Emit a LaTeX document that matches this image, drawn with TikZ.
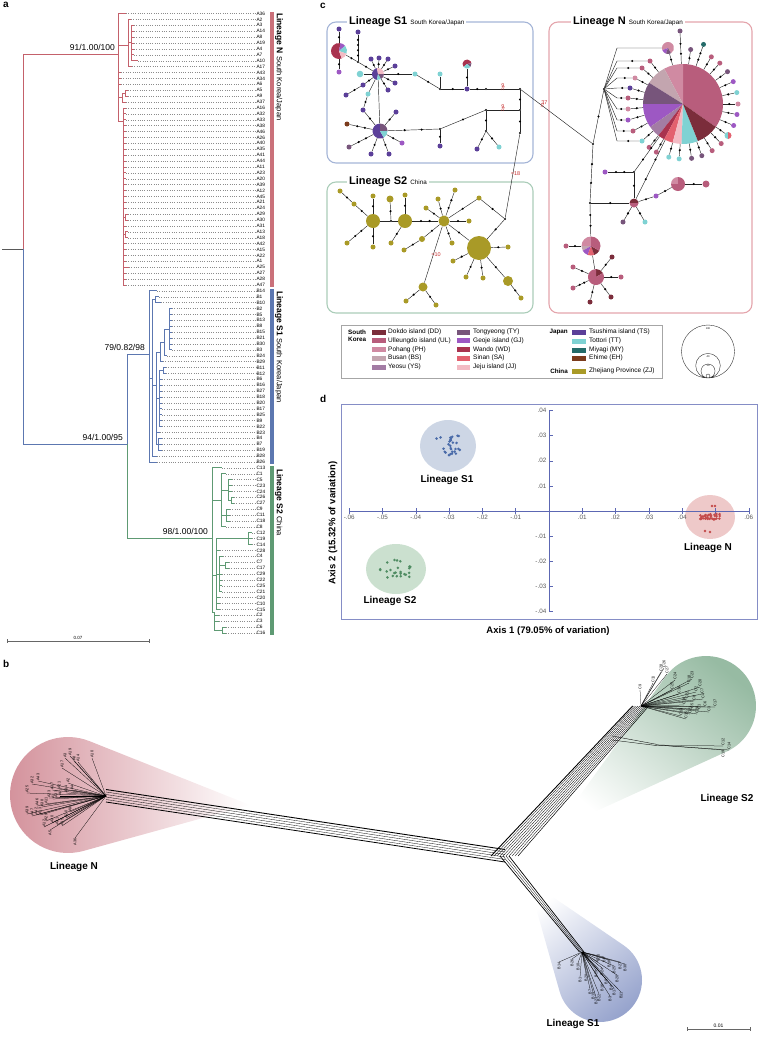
\documentclass[tikz,border=0pt]{standalone}
\usepackage{fontspec}
\setmainfont{Liberation Sans}
\usetikzlibrary{calc,positioning}

\definecolor{colDD}{HTML}{7B2D3B}
\definecolor{colUL}{HTML}{B85D7C}
\definecolor{colPH}{HTML}{D08AA2}
\definecolor{colBS}{HTML}{C3A5AF}
\definecolor{colYS}{HTML}{A37CA4}
\definecolor{colTY}{HTML}{77557B}
\definecolor{colGJ}{HTML}{9D58C3}
\definecolor{colWD}{HTML}{A9334F}
\definecolor{colSA}{HTML}{E3616F}
\definecolor{colJJ}{HTML}{F3BBC4}
\definecolor{colTS}{HTML}{5B3F99}
\definecolor{colTT}{HTML}{7FD2D3}
\definecolor{colMY}{HTML}{246B69}
\definecolor{colEH}{HTML}{7B3B1D}
\definecolor{colZJ}{HTML}{A99A27}
\definecolor{treeN}{HTML}{C4616B}
\definecolor{treeS1}{HTML}{5C77B0}
\definecolor{treeS2}{HTML}{5E9A73}
\definecolor{boxS1}{HTML}{A5B5D7}
\definecolor{boxS2}{HTML}{ABCDB9}
\definecolor{boxN}{HTML}{E4A5AC}
\definecolor{blobN}{HTML}{D3909A}
\definecolor{blobS1}{HTML}{97A4CD}
\definecolor{blobS2}{HTML}{97BBA3}
\definecolor{axisblue}{HTML}{5C67B3}
\definecolor{mutred}{HTML}{C62F2F}
\definecolor{ellS1}{HTML}{CDD6E5}
\definecolor{ellS2}{HTML}{CBE0CF}
\definecolor{ellN}{HTML}{EEC9C9}
\definecolor{dotS1}{HTML}{4A6BA9}
\definecolor{dotS2}{HTML}{4F8C62}
\definecolor{dotN}{HTML}{C44B4B}

\newcommand{\fsz}[1]{\fontsize{#1}{#1}\selectfont}
% pie node: name, x, y, radius, slices
\newcommand{\hapie}[5]{%
  \node[hapnode,minimum size=#4*2pt] (#1) at (#2,#3) {};
  \foreach \angA/\angB/\slcol in {#5}{%
    \fill[\slcol] (#1.center) -- ++(\angA:#4) arc[start angle=\angA,end angle=\angB,radius=#4] -- cycle;}}
% link with mutation steps: steps, from, to
\newcommand{\hlink}[3]{%
  \draw[hapedge] (#2) -- (#3) foreach \hk in {1,...,#1}{node[mutdot,pos=\hk/(#1+1)]{}};}

\begin{document}
\begin{tikzpicture}[x=1pt,y=-1pt,
	panel/.style={anchor=north west, inner sep=0pt, font=\fsz{10}\bfseries},
	tipnode/.style={anchor=west, inner sep=0.3pt, font=\fsz{4.8}},
	branch/.style={line width=0.7pt},
	leader/.style={black!45, dotted, line width=0.3pt},
	support/.style={anchor=south east, inner sep=1pt, font=\fsz{8.5}},
	barlabel/.style={anchor=west, rotate=-90, inner sep=0pt, font=\fsz{8.5}},
	netline/.style={black, line width=0.35pt},
	netthin/.style={black, line width=0.25pt},
	netlab/.style={rotate=90, inner sep=0.2pt, font=\fsz{3.8}},
	grouplab/.style={inner sep=0pt, font=\fsz{10}\bfseries},
	hapnode/.style={circle, inner sep=0pt, minimum size=5pt},
	hap/.style={hapnode, minimum size=5pt},
	mutdot/.style={circle, fill=black, inner sep=0pt, minimum size=2.3pt},
	hapedge/.style={black!85, line width=0.45pt},
	brk/.style={text=mutred, font=\fsz{5.5}, inner sep=0pt},
	brklab/.style={text=mutred, font=\fsz{5.5}, inner sep=0pt, above=1.5pt},
	boxtitle/.style={anchor=west, fill=white, inner sep=2pt, font=\fsz{11}\bfseries},
	legtext/.style={anchor=west, inner sep=0pt, font=\fsz{6.5}},
	leghead/.style={inner sep=0pt, font=\fsz{6.3}\bfseries},
	dtick/.style={inner sep=0.5pt, text=black!65, font=\fsz{6.3}},
	]
	\useasboundingbox (0,0) rectangle (760,1039);

	%Panel a: tree
	\node[panel] (pa) at (3,2) {a};
	\foreach \xa/\ya/\xb/\yb/\col in {
		2/249/23/249/black!65, 23/54/23/249/treeN, 23/54/118/54/treeN,
		23/249/23/444/treeS1, 23/444/127/444/treeS1, 127/354/127/444/treeS1,
		127/354/149/354/treeS1, 127/444/127/538/treeS2, 127/538/212/538/treeS2,
		118/13.5/118/121/treeN, 118/45/128/45/treeN, 128/19.4/128/66.6/treeN,
		128/42/131/42/treeN, 131/25.3/131/60.7/treeN, 118/97/122/97/treeN,
		122/93.1/122/102/treeN, 122/93.1/125/93.1/treeN, 125/90.2/125/96.1/treeN,
		118/121/123/121/treeN, 123/107.9/123/284.9/treeN, 123/217/125/217/treeN,
		125/214.1/125/220/treeN, 123/234.7/125/234.7/treeN, 125/231.8/125/237.7/treeN,
		149/290.8/149/461.9/treeS1, 152/299.7/152/456/treeS1, 149/378/152/378/treeS1,
		155/296.7/155/302.6/treeS1, 152/299.7/155/299.7/treeS1, 156/352/156/444/treeS1,
		152/385/156/385/treeS1, 160/342/160/361.6/treeS1, 156/352/160/352/treeS1,
		164/329/164/355.7/treeS1, 160/342/164/342/treeS1, 169/308.5/169/349.8/treeS1,
		164/329/169/329/treeS1, 163/367.5/163/373.4/treeS1, 159/370.5/163/370.5/treeS1,
		159/370.5/159/426.5/treeS1, 156/398/159/398/treeS1, 158/438.3/158/450.1/treeS1,
		156/444/158/444/treeS1,
		212/467.8/212/612/treeS2, 212/500/221/500/treeS2, 221/473.7/221/526.8/treeS2,
		221/490/228/490/treeS2, 228/479.6/228/500.2/treeS2, 228/500.2/231/500.2/treeS2,
		231/497.3/231/503.2/treeS2, 221/515/226/515/treeS2, 226/509.1/226/520.9/treeS2,
		212/575/216/575/treeS2, 216/538.6/216/609.4/treeS2, 216/538.6/248/538.6/treeS2,
		248/532.7/248/544.5/treeS2, 216/574/219/574/treeS2, 219/556.3/219/591.7/treeS2,
		219/565.2/225/565.2/treeS2, 225/562.2/225/568.1/treeS2, 212/612/214/612/treeS2,
		214/612/214/630/treeS2, 214/630/222/630/treeS2, 222/627.1/222/633/treeS2}
		\draw[branch,\col] (\xa,\ya) -- (\xb,\yb);
	\foreach \lab [count=\g from 0] in {A36,A2,A3,A14,A8,A19,A4,A7,A10,A17,A43,A34,A6,A5,A9,A37,A16,A32,A33,A38,A46,A26,A40,A35,A41,A44,A11,A23,A20,A39,A12,A45,A21,A24,A29,A30,A31,A13,A18,A42,A15,A22,A1,A25,A27,A28,A47,B14,B1,B10,B2,B5,B13,B8,B15,B21,B30,B3,B24,B29,B11,B12,B6,B16,B27,B18,B20,B17,B25,B9,B22,B23,B4,B7,B19,B28,B26,C13,C1,C5,C23,C24,C26,C27,C9,C11,C18,C8,C12,C19,C14,C28,C4,C7,C17,C29,C22,C25,C21,C20,C10,C15,C2,C3,C6,C16}
		\node[tipnode] (tip\g) at (256,{13.5+5.9*\g}) {\lab};
	\foreach \ga/\gb/\xv/\xt/\col in {0/0/118/126/treeN, 1/1/128/131/treeN, 2/7/131/134/treeN,
		8/8/131/138/treeN, 9/9/128/132/treeN, 10/12/118/121/treeN, 13/14/125/128/treeN,
		15/15/122/126/treeN, 16/33/123/126/treeN, 34/35/125/128/treeN, 36/36/123/126/treeN,
		37/38/125/128/treeN, 39/42/123/126/treeN, 43/43/123/129/treeN, 44/46/123/126/treeN,
		47/47/149/157/treeS1, 48/48/155/159/treeS1, 49/49/155/161/treeS1, 50/57/169/172/treeS1,
		58/58/164/167/treeS1, 59/59/160/163/treeS1, 60/61/163/166/treeS1, 62/70/159/162/treeS1,
		71/71/156/160/treeS1, 72/74/158/162/treeS1, 75/75/152/157/treeS1, 76/76/149/157/treeS1,
		77/77/212/222/treeS2, 78/78/221/226/treeS2, 79/81/228/232/treeS2, 82/83/231/234/treeS2,
		84/86/226/230/treeS2, 87/87/221/226/treeS2, 88/90/248/252/treeS2, 91/91/216/220/treeS2,
		92/92/219/223/treeS2, 93/94/225/229/treeS2, 95/98/219/222/treeS2, 99/101/216/220/treeS2,
		102/103/214/219/treeS2, 104/105/222/226/treeS2}
		\foreach \g in {\ga,...,\gb}{
			\draw[branch,\col] (\xv,{13.5+5.9*\g}) -- (\xt,{13.5+5.9*\g});
			\draw[leader] (\xt,{13.5+5.9*\g}) -- (tip\g.west);}
	\fill[treeN!90] (270,11.5) rectangle (273.5,287);
	\fill[treeS1] (270,289) rectangle (273.5,464);
	\fill[treeS2] (270,466) rectangle (273.5,635);
	\node[barlabel] (lbN) at (279,13) {\textbf{Lineage N} {\fsz{7.5}South Korea/Japan}};
	\node[barlabel] (lbS1) at (279,291) {\textbf{Lineage S1} {\fsz{7.5}South Korea/Japan}};
	\node[barlabel] (lbS2) at (279,469) {\textbf{Lineage S2} {\fsz{7.5}China}};
	\node[support] (bsN) at (116,52) {91/1.00/100};
	\node[support] (bsA) at (124,442) {94/1.00/95};
	\node[support] (bsS1) at (146,352) {79/0.82/98};
	\node[support] (bsS2) at (209,536) {98/1.00/100};
	\coordinate (scA) at (7,641);
	\coordinate (scB) at (149,641);
	\draw[black!60, line width=0.5pt] ([yshift=2pt]scA) -- ([yshift=-2pt]scA) (scA) -- (scB) ([yshift=2pt]scB) -- ([yshift=-2pt]scB);
	\node[font=\fsz{4.5}, above, inner sep=1pt] (scl) at ($(scA)!0.5!(scB)$) {0.07};

	%Panel b: network
	\node[panel] (pb) at (3,660) {b};
	\coordinate (cN) at (68,795);   \coordinate (tN) at (250,805);
	\coordinate (cS2) at (706,706); \coordinate (tS2) at (555,830);
	\coordinate (cS1) at (600,980); \coordinate (tS1) at (528,880);
	\path[left color=blobN, right color=white] (tN) -- ($(cN)+(74.5:58)$) arc[start angle=74.5, end angle=291.7, radius=58] -- cycle;
	\path[top color=blobS2, bottom color=white, shading angle=-40] (tS2) -- ($(cS2)+(215.8:50)$) arc[start angle=215.8, end angle=425.4, radius=50] -- cycle;
	\path[top color=white, bottom color=blobS1, shading angle=40] (tS1) -- ($(cS1)+(304.3:42)$) arc[start angle=304.3, end angle=524.1, radius=42] -- cycle;
	\coordinate (bN) at (106,796);
	\coordinate (bJ) at (505,856);
	\coordinate (bS2) at (641,706);
	\coordinate (bS1) at (582,952);
	\coordinate (bC0) at (612,738);
	\coordinate (bC) at (657,745);
	\foreach \o/\w in {-6/0.8,-3.5/0.3,-1/0.3,1.5/0.3,4/0.3,6.5/0.9}
		\draw[netline, line width=\w pt] ([yshift=\o pt]bN) -- ([yshift=\o pt]bJ);
	\foreach \o/\w in {-14/0.9,-11/0.3,-8/0.3,-5/0.3,-2/0.3,1/0.3,4/0.3,7/0.3,10/0.3,13/0.5}
		\draw[netline, line width=\w pt] ([xshift=\o pt]bJ) -- ([xshift={0.6*\o*1pt}]bS2);
	\foreach \o/\w in {-5/0.7,-2/0.3,1/0.3,4/0.7}
		\draw[netline, line width=\w pt] ([xshift=\o pt]bJ) -- ([xshift={0.5*\o*1pt}]bS1);
	\foreach \o in {-2,2}
		\draw[netline] ([yshift=\o pt]bC0) -- ([yshift={0.3*\o*1pt}]bC);
	\foreach \x/\y/\lab/\an [count=\i] in {92/758/A10/west, 78/762/A14/west, 74/761/A8/west,
		70/756/A19/west, 65/758/A3/west, 62/768/A17/west, 68/783/A2/west, 72/790/A4/west,
		66/793/A34/west, 59/789/A21/west, 52/790/A37/west, 38/781/A43/west, 32/784/A32/west,
		27/793/A25/west, 27/814/A39/west, 32/816/A47/west, 36/815/A42/west, 40/815/A13/west,
		37/806/A46/west, 42/807/A38/west, 46/804/A11/west, 49/798/A23/west, 53/799/A1/west,
		56/798/A33/west, 60/796/A6/west, 46/821/A29/west, 52/823/A30/west, 57/825/A31/west,
		62/826/A15/west, 44/827/A12/west, 66/818/A20/west, 70/812/A9/west, 50/830/A5/east,
		75/838/A36/east}{
		\coordinate (bna\i) at (\x,\y);
		\draw[netthin] (bN) -- (bna\i);
		\node[netlab, anchor=\an] (nla\i) at (bna\i) {\lab};}
	\foreach \x/\y/\lab [count=\i] in {640/690/C9, 653/683/C11, 661/672/C28, 664/668/C26,
		667/674/C27, 675/680/C24, 679/694/C10, 689/683/C18, 692/679/C23, 700/687/C20,
		687/699/C22, 694/701/C8, 703/699/C4, 692/709/C5, 699/710/C1, 705/707/C6,
		715/707/C17, 686/719/C15, 697/714/C29, 681/716/C13, 709/712/C3, 690/714/C21,
		684/705/C16, 696/692/C2, 672/690/C25, 702/694/C7}{
		\coordinate (bnc\i) at (\x,\y);
		\draw[netthin] (bS2) -- (bnc\i);
		\node[netlab, anchor=west] (nlc\i) at (bnc\i) {\lab};}
	\foreach \x/\y/\lab/\an [count=\i] in {723/746/C12/west, 729/750/C14/west, 723/750/C19/east}{
		\coordinate (bnd\i) at (\x,\y);
		\draw[netthin] (bC) -- (bnd\i);
		\node[netlab, anchor=\an] (nld\i) at (bnd\i) {\lab};}
	\foreach \x/\y/\lab/\an [count=\i] in {559/962/B14/east, 572/959/B26/east, 578/963/B10/east,
		580/977/B1/east, 586/974/B28/east, 590/989/B7/east, 593/992/B19/east, 596/997/B23/east,
		599/994/B22/east, 602/984/B16/east, 606/979/B9/east, 610/996/B3/east, 611/985/B4/east,
		614/988/B17/east, 614/966/B25/east, 617/975/B20/east, 621/992/B11/east, 625/964/B30/east,
		620/962/B27/east, 604/957/B8/east, 598/962/B21/west, 609/960/B18/east, 602/968/B24/east,
		596/970/B29/east}{
		\coordinate (bnb\i) at (\x,\y);
		\draw[netthin] (bS1) -- (bnb\i);
		\node[netlab, anchor=\an] (nlb\i) at (bnb\i) {\lab};}
	\node[grouplab] (gN) at (74,867) {Lineage N};
	\node[grouplab] (gS2) at (727,799) {Lineage S2};
	\node[grouplab] (gS1) at (573,1024) {Lineage S1};
	\coordinate (sbA) at (687,1029);
	\coordinate (sbB) at (750,1029);
	\draw[black!60, line width=0.5pt] ([yshift=2pt]sbA) -- ([yshift=-2pt]sbA) (sbA) -- (sbB) ([yshift=2pt]sbB) -- ([yshift=-2pt]sbB);
	\node[font=\fsz{5}, above, inner sep=1pt] (sbl) at ($(sbA)!0.5!(sbB)$) {0.01};

	%Panel c: haplotype network
	\node[panel] (pc) at (320,3) {c};
	\draw[boxS1, line width=1.1pt, rounded corners=9pt] (327,22) rectangle (533,163);
	\draw[boxS2, line width=1.1pt, rounded corners=9pt] (327,182) rectangle (533,313);
	\draw[boxN, line width=1.1pt, rounded corners=9pt] (549,22) rectangle (752,313);
	\node[boxtitle] (tS1) at (347,22) {Lineage S1 {\fsz{6.3}\mdseries South Korea/Japan}};
	\node[boxtitle] (tS2) at (347,182) {Lineage S2 {\fsz{6.3}\mdseries China}};
	\node[boxtitle] (tN) at (571,22) {Lineage N {\fsz{6.3}\mdseries South Korea/Japan}};

	% lineage S1
	\hapie{s1p}{339}{51}{8}{-290/-80/colWD,-80/-40/colGJ,-40/20/colTT,20/70/colJJ}
	\hapie{s1h}{378}{74}{6}{-260/-100/colTS,-100/0/colJJ,0/60/colTY,60/100/colTT}
	\hapie{s1q}{380}{131}{7.5}{-300/-90/colTS,-90/0/colTY,0/60/colTT}
	\hapie{s1g}{467}{64}{4.5}{-220/-10/colWD,-10/40/colTY,40/140/colTT}
	\node[hap,fill=colTS] (s1a) at (339,29) {};
	\node[hap,fill=colGJ] (s1b) at (339,72) {};
	\node[hap,fill=colTS] (s1c) at (358,32) {};
	\node[mutdot] (s1d) at (358,62) {};
	\hlink{1}{s1a}{s1p} \hlink{1}{s1p}{s1b} \hlink{4}{s1c}{s1d}
	\hlink{1}{s1p}{s1d} \hlink{1}{s1d}{s1h}
	\foreach \n/\x/\y in {h1/371/59,h2/379/58,h3/388/59,h4/395/66,h5/395/83,h6/388/90}{
		\node[hap,fill=colTS] (s1\n) at (\x,\y) {};
		\hlink{1}{s1h}{s1\n}}
	\node[hap,fill=colTT,minimum size=6.6pt] (s1t0) at (360,74) {};
	\draw[hapedge] (s1h) -- (s1t0);
	\node[hap,fill=colTS] (s1m1) at (363,85) {};
	\node[hap,fill=colTS] (s1m2) at (346,95) {};
	\hlink{1}{s1h}{s1m1} \hlink{1}{s1m1}{s1m2}
	\node[hap,fill=colTT] (s1t3) at (368,94) {};
	\node[hap,fill=colTS] (s1m3) at (363,110) {};
	\draw[hapedge] (s1h) -- (s1t3);
	\hlink{1}{s1t3}{s1m3} \hlink{1}{s1m3}{s1q}
	\draw[hapedge] (s1h) -- (s1q);
	\node[hap,fill=colTT] (s1t1) at (415,74) {};
	\node[mutdot] (s1e) at (440,89) {};
	\node[hap,fill=colTT] (s1t2) at (440,74) {};
	\node[hap,fill=colTS] (s1f) at (467,89) {};
	\node[mutdot] (s1i) at (486,89) {};
	\node[mutdot] (s1j) at (520,89) {};
	\hlink{1}{s1h}{s1t1} \hlink{1}{s1t1}{s1e} \hlink{1}{s1e}{s1f}
	\hlink{1}{s1f}{s1g} \hlink{1}{s1f}{s1i}
	\draw[hapedge] (s1e) -- (s1t2);
	\draw[hapedge] (s1i) -- node[brk]{//} node[brklab]{9} (s1j);
	\node[mutdot] (s1k) at (520,110) {};
	\node[mutdot] (s1l) at (486,110) {};
	\node[mutdot] (s1n) at (520,133) {};
	\node[mutdot] (s1o) at (486,131) {};
	\node[mutdot] (s1v) at (440,129) {};
	\hlink{1}{s1j}{s1k} \hlink{1}{s1k}{s1n} \hlink{1}{s1l}{s1o} \hlink{1}{s1l}{s1v}
	\draw[hapedge] (s1l) -- node[brk]{//} node[brklab]{9} (s1k);
	\node[hap,fill=colTS] (s1u1) at (477,149) {};
	\node[hap,fill=colTT] (s1u2) at (499,147) {};
	\node[hap,fill=colTS] (s1w) at (440,146) {};
	\hlink{1}{s1o}{s1u1} \hlink{1}{s1o}{s1u2} \hlink{1}{s1v}{s1w} \hlink{2}{s1v}{s1q}
	\foreach \n/\x/\y/\col/\k in {q1/396/112/colTS/1, q2/347/124/colEH/2, q3/349/147/colTY/2,
		q4/371/154/colTS/1, q5/389/154/colTS/1, q6/402/143/colGJ/1}{
		\node[hap,fill=\col] (s1\n) at (\x,\y) {};
		\hlink{\k}{s1q}{s1\n}}

	% lineage S2
	\node[mutdot] (s2j) at (505,219) {};
	\node[mutdot] (s2k) at (391,221) {};
	\node[hap,fill=colZJ,minimum size=14pt] (z1) at (373,221) {};
	\node[hap,fill=colZJ,minimum size=14pt] (z2) at (405,221) {};
	\node[hap,fill=colZJ,minimum size=11pt] (z3) at (444,221) {};
	\node[hap,fill=colZJ,minimum size=24pt] (z4) at (479,248) {};
	\node[hap,fill=colZJ,minimum size=9pt] (z5) at (423,287) {};
	\node[hap,fill=colZJ,minimum size=10pt] (z6) at (508,281) {};
	\draw[hapedge] (s1n) -- node[brk, anchor=west, xshift=-2pt, pos=0.47]{≈18} (s2j);
	\draw[hapedge] (z1) -- (s2k) -- (z2);
	\hlink{2}{z2}{z3} \hlink{1}{s2j}{z4} \hlink{1}{z3}{z4} \hlink{1}{z4}{z6}
	\draw[hapedge] (z3) -- node[brk, anchor=west, xshift=-2pt]{≈10} (z5);
	\foreach \n/\x/\y/\fr/\k/\sz in {a1/354/204/z1/1/5, a2/340/191/za1/1/5, b/373/196/z1/1/5,
		c/347/243/z1/2/5, d/373/247/z1/1/5, e/390/199/s2k/1/7, f/405/195/z2/1/5, g/391/243/z2/1/5,
		h/426/208/z3/1/5, i/438/199/z3/1/5, j/455/190/z3/2/5, k/469/221/z3/1/5, l/422/239/z3/1/6,
		m/404/250/zl/1/5, n/452/243/z3/1/5, o/479/198/z3/1/5, p/508/247/z4/1/5, q/453/261/z4/1/5,
		r/466/277/z4/1/5, s/483/278/z4/1/5, t/521/298/z6/1/5, u/406/301/z5/1/5, v/436/305/z5/1/5}{
		\node[hap,fill=colZJ,minimum size=\sz pt] (z\n) at (\x,\y) {};
		\hlink{\k}{\fr}{z\n}}
	\hlink{1}{zo}{s2j}

	% lineage N
	\hapie{NP}{683}{104}{40}{-90/35/colUL,-118/-90/colPH,-148/-118/colBS,-180/-148/colTY,-215/-180/colGJ,-232/-215/colYS,-242/-232/colWD,-255/-242/colSA,-268/-255/colJJ,-292/-268/colTT,-325/-292/colDD}
	\hapie{np2}{668}{48}{6}{-200/60/colPH,-250/-200/colGJ,-300/-250/colTY}
	\hapie{nsa}{728}{135.5}{3.5}{-270/-90/colTT,-90/90/colSA}
	\hapie{nq}{634}{203}{4.5}{-180/0/colDD,0/180/colUL}
	\hapie{ns}{678}{184}{7}{-180/-90/colPH,-90/180/colUL}
	\hapie{np3}{591}{246}{9.5}{-180/-90/colPH,-210/-180/colBS,-250/-210/colGJ,-290/-250/colSA,-330/-290/colDD,-90/30/colUL}
	\hapie{np4}{596}{277}{8}{-90/-30/colDD,-30/270/colUL}
	\hlink{1}{np2}{NP} \hlink{1}{nsa}{NP}
	\foreach \ang/\col [count=\i] in {-82/colTY,-59/colUL,-48/colUL,-36/colTY,-24/colGJ,-12/colTT,0/colPH,11/colGJ,23/colGJ,46/colUL,58/colUL,70/colTY,81/colTY,94/colTT,105/colTT,119/colUL,128/colUL}{
		\node[hap,fill=\col] (nl\i) at ($(NP.center)+(\ang:55)$) {};
		\hlink{1}{NP}{nl\i}}
	\node[hap,fill=colMY] (nmy) at ($(NP.center)+(-71:63)$) {};
	\hlink{2}{NP}{nmy}
	\node[hap,fill=colTY] (ntop) at (680,31) {};
	\hlink{2}{NP}{ntop}
	\node[mutdot] (nj) at (593,144) {};
	\node[mutdot] (nf) at (604,89) {};
	\draw[hapedge] (s1j) -- node[brk, pos=0.3]{//} node[brklab, pos=0.3, xshift=2pt]{37} (nj);
	\hlink{1}{nj}{nf}
	\coordinate (fc0) at (617,48);
	\draw[hapedge] (nf) -- (fc0) -- (np2);
	\foreach \y/\lx/\col [count=\i] in {61/650/colUL, 68/642/colUL, 78/635/colPH, 88/630/colTS, 98/628/colUL, 109/628/colPH, 120/628/colGJ, 131/633/colUL, 141/642/colTT}{
		\coordinate (fc\i) at (617,\y);
		\node[hap,fill=\col] (fl\i) at (\lx,\y) {};
		\draw[hapedge] (nf) -- (fc\i) -- (fl\i) node[mutdot,pos=.5]{};
		\hlink{1}{fl\i}{NP}}
	\node[mutdot] (nk) at (590,203) {};
	\node[mutdot] (nr) at (634,172) {};
	\node[hap,fill=colGJ] (ng1) at (605,172) {};
	\hlink{2}{nj}{nk} \hlink{1}{nk}{nq} \hlink{1}{nr}{nq} \hlink{2}{nr}{ng1}
	\hlink{2}{NP}{nr} \hlink{2}{NP}{nq}
	\node[hap,fill=colTY] (nq1) at (623,222) {};
	\node[hap,fill=colTT] (nq2) at (645,222) {};
	\node[hap,fill=colGJ] (nq3) at (656,196) {};
	\node[hap,fill=colUL,minimum size=7pt] (ns1) at (706,184) {};
	\hlink{1}{nq}{nq1} \hlink{1}{nq}{nq2} \hlink{1}{nq}{nq3} \hlink{1}{nq3}{ns} \hlink{1}{ns}{ns1}
	\hlink{2}{nk}{np3}
	\node[hap,fill=colUL] (np3a) at (566,246) {};
	\hlink{1}{np3}{np3a}
	\draw[hapedge] (np3) -- (np4);
	\foreach \n/\x/\y/\col/\k in {a/573/267/colUL/1, b/612/257/colDD/1, c/621/277/colUL/1,
		d/573/288/colUL/2, e/611/297/colDD/1, f/590/302/colDD/1}{
		\node[hap,fill=\col] (np4\n) at (\x,\y) {};
		\hlink{\k}{np4}{np4\n}}

	% legend
	\draw[black!35, line width=0.6pt] (341,325) rectangle (662,378);
	\node[leghead, anchor=west] (lgSK) at (348,336) {\shortstack[l]{South\\Korea}};
	\node[leghead, anchor=east] (lgJP) at (568,332) {Japan};
	\node[leghead, anchor=east] (lgCN) at (568,371) {China};
	\foreach \swc/\swt [count=\i from 0] in {colDD/Dokdo island (DD), colUL/Ulleungdo island (UL), colPH/Pohang (PH), colBS/Busan (BS), colYS/Yeosu (YS)}{
		\fill[\swc] (372,{329.5+8.75*\i}) rectangle (386,{334.5+8.75*\i});
		\node[legtext] (lga\i) at (388,{332+8.75*\i}) {\swt};}
	\foreach \swc/\swt [count=\i from 0] in {colTY/Tongyeong (TY), colGJ/Geoje island (GJ), colWD/Wando (WD), colSA/Sinan (SA), colJJ/Jeju island (JJ)}{
		\fill[\swc] (457,{329.5+8.75*\i}) rectangle (470,{334.5+8.75*\i});
		\node[legtext] (lgb\i) at (473,{332+8.75*\i}) {\swt};}
	\foreach \swc/\swt/\yy [count=\i from 0] in {colTS/Tsushima island (TS)/332, colTT/Tottori (TT)/341, colMY/Miyagi (MY)/350, colEH/Ehime (EH)/358, colZJ/Zhejiang Province (ZJ)/371}{
		\fill[\swc] (572,\yy-2.5) rectangle (586,\yy+2.5);
		\node[legtext] (lgc\i) at (589,\yy) {\swt};}
	\coordinate (sz1) at (708,351.5);
	\coordinate (sz2) at (708,365.7);
	\coordinate (sz3) at (708,371);
	\coordinate (sz4) at (708,376);
	\draw[black!80, line width=0.4pt] (sz1) circle[radius=26.5] (sz2) circle[radius=12.3] (sz3) circle[radius=7] (sz4) circle[radius=2];
	\node[font=\fsz{2.6}, inner sep=0pt] (szl1) at (708,329) {100};
	\node[font=\fsz{2.6}, inner sep=0pt] (szl2) at (708,357) {40};
	\node[font=\fsz{2.6}, inner sep=0pt] (szl3) at (708,366) {10};

	%Panel d: PCoA
	\node[panel] (pd) at (320,395) {d};
	\draw[axisblue!75, line width=0.8pt] (341,404) rectangle (757,619);
	\coordinate (cdS1) at (448,446);
	\coordinate (cdS2) at (396,569);
	\coordinate (cdN) at (710,517);
	\fill[ellS1] (cdS1) ellipse [x radius=28, y radius=26];
	\fill[ellS2] (cdS2) ellipse [x radius=30, y radius=25];
	\fill[ellN] (cdN) ellipse [x radius=25, y radius=22];
	\draw[axisblue, line width=0.6pt] (349,511) -- (749,511) (549,411) -- (549,612);
	\foreach \v/\lab [count=\i] in {-6/-.06,-5/-.05,-4/-.04,-3/-.03,-2/-.02,-1/-.01,1/.01,2/.02,3/.03,4/.04,6/.06}{
		\node[dtick, anchor=north] (dx\i) at ({549+33.3*\v},514) {\lab};}
	\foreach \v in {-6,-5,-4,-3,-2,-1,1,2,3,4,5,6}
		\draw[axisblue, line width=0.6pt] ({549+33.3*\v},508) -- ({549+33.3*\v},514);
	\foreach \v/\lab [count=\i] in {4/.04,3/.03,2/.02,1/.01,-1/-.01,-2/-.02,-3/-.03,-4/-.04}{
		\draw[axisblue, line width=0.6pt] (549,{511-25.1*\v}) -- (553,{511-25.1*\v});
		\node[dtick, anchor=east] (dy\i) at (547,{511-25.1*\v}) {\lab};}
	\pgfmathsetseed{11}
	\foreach \i in {1,...,28}
		\fill[dotS1] ($(cdS1)+({rand*12},{rand*11})$) circle[radius=1.4];
	\foreach \i in {1,...,24}
		\fill[dotS2] ($(cdS2)+({rand*16},{rand*9})$) circle[radius=1.4];
	\foreach \i in {1,...,34}
		\fill[dotN] ($(cdN)+({rand*10},{rand*3})$) circle[radius=1.4];
	\foreach \dx/\dy in {2/-11,5/-11,-5/14,0/15}
		\fill[dotN] ($(cdN)+(\dx,\dy)$) circle[radius=1.4];
	\node[grouplab] (dlS1) at (447,480) {Lineage S1};
	\node[grouplab] (dlS2) at (390,601) {Lineage S2};
	\node[grouplab] (dlN) at (708,548) {Lineage N};
	\node[font=\fsz{9.5}\bfseries, inner sep=0pt] (ax1) at (548,631) {Axis 1 (79.05\% of variation)};
	\node[font=\fsz{9.5}\bfseries, inner sep=0pt, rotate=90] (ax2) at (333,523) {Axis 2 (15.32\% of variation)};
\end{tikzpicture}
\end{document}
